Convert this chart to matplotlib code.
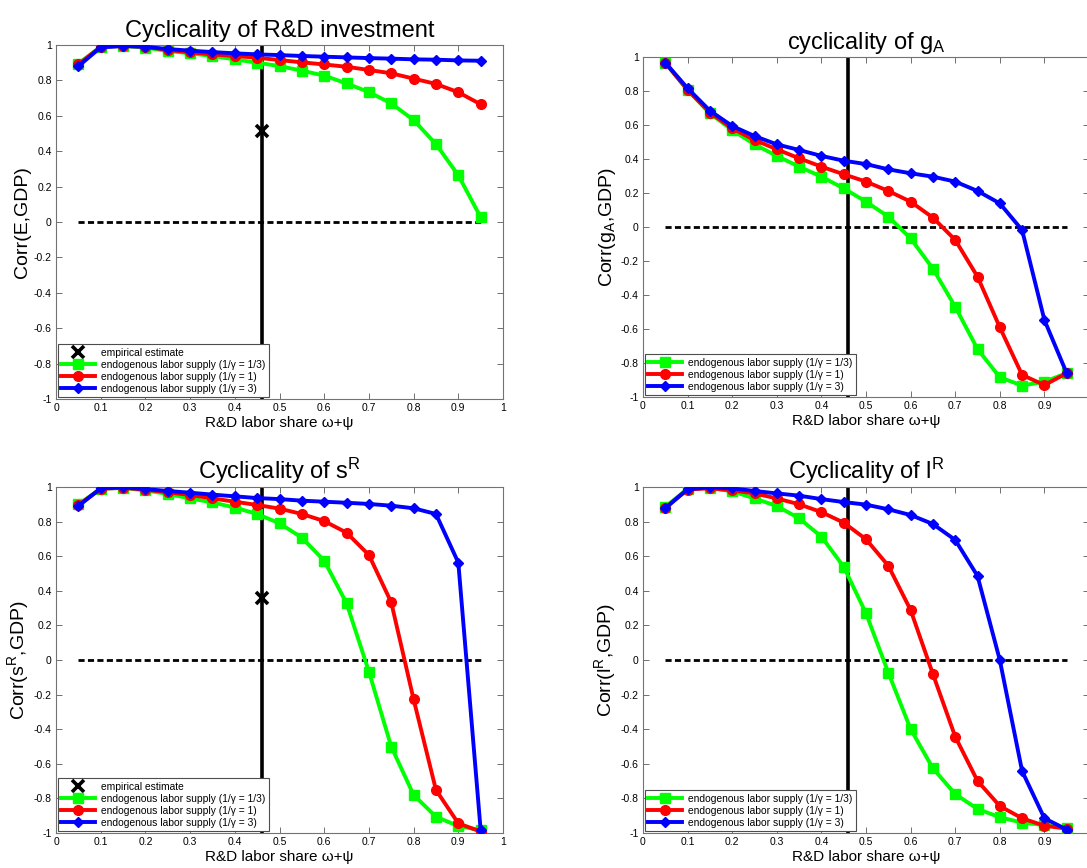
import matplotlib
matplotlib.use("Agg")
import matplotlib.pyplot as plt

plt.rcParams['font.family'] = ['Liberation Sans', 'DejaVu Sans']
plt.rcParams['mathtext.fontset'] = 'custom'
plt.rcParams['mathtext.rm'] = 'Liberation Sans'
plt.rcParams['mathtext.it'] = 'Liberation Sans:italic'

x = [0.05, 0.10, 0.15, 0.20, 0.25, 0.30, 0.35, 0.40, 0.45, 0.50,
     0.55, 0.60, 0.65, 0.70, 0.75, 0.80, 0.85, 0.90, 0.95]

# Panel 1: R&D investment E
E_green = [0.895, 0.99, 0.995, 0.985, 0.966, 0.953, 0.938, 0.919, 0.90, 0.881,
           0.855, 0.827, 0.783, 0.734, 0.67, 0.576, 0.44, 0.264, 0.027]
E_red = [0.89, 0.99, 0.995, 0.99, 0.972, 0.958, 0.947, 0.938, 0.928, 0.915,
         0.902, 0.89, 0.877, 0.859, 0.84, 0.81, 0.78, 0.733, 0.665]
E_blue = [0.88, 0.987, 0.994, 0.99, 0.977, 0.968, 0.96, 0.953, 0.947, 0.943,
          0.938, 0.934, 0.93, 0.926, 0.923, 0.919, 0.917, 0.913, 0.911]
E_emp = 0.516

# Panel 2: g_A
g_green = [0.965, 0.805, 0.669, 0.57, 0.486, 0.418, 0.355, 0.296, 0.227, 0.149,
           0.061, -0.067, -0.245, -0.469, -0.718, -0.884, -0.933, -0.91, -0.86]
g_red = [0.965, 0.806, 0.673, 0.58, 0.512, 0.457, 0.404, 0.355, 0.31, 0.267,
         0.212, 0.149, 0.055, -0.076, -0.292, -0.59, -0.87, -0.93, -0.86]
g_blue = [0.967, 0.816, 0.684, 0.594, 0.535, 0.486, 0.453, 0.418, 0.39, 0.37,
          0.339, 0.316, 0.296, 0.267, 0.212, 0.139, -0.018, -0.547, -0.86]

# Panel 3: s^R
s_green = [0.90, 0.99, 0.995, 0.98, 0.96, 0.934, 0.911, 0.881, 0.844, 0.79,
           0.707, 0.574, 0.328, -0.067, -0.501, -0.78, -0.906, -0.96, -0.983]
s_red = [0.895, 0.99, 0.995, 0.985, 0.969, 0.954, 0.934, 0.915, 0.896, 0.875,
         0.844, 0.803, 0.736, 0.607, 0.333, -0.227, -0.751, -0.944, -0.992]
s_blue = [0.89, 0.992, 0.998, 0.988, 0.977, 0.967, 0.956, 0.946, 0.936, 0.93,
          0.921, 0.915, 0.909, 0.902, 0.892, 0.877, 0.844, 0.563, -0.983]
s_emp = 0.357

# Panel 4: l^R
l_green = [0.885, 0.99, 0.995, 0.975, 0.934, 0.89, 0.819, 0.713, 0.539, 0.27,
           -0.073, -0.399, -0.626, -0.775, -0.861, -0.909, -0.94, -0.954, -0.97]
l_red = [0.88, 0.985, 0.993, 0.98, 0.963, 0.934, 0.90, 0.855, 0.794, 0.698,
         0.545, 0.289, -0.081, -0.443, -0.699, -0.844, -0.915, -0.958, -0.975]
l_blue = [0.877, 0.988, 0.998, 0.992, 0.977, 0.963, 0.95, 0.93, 0.913, 0.898,
          0.871, 0.838, 0.786, 0.694, 0.486, 0.0, -0.642, -0.915, -0.98]

x_emp = 0.46
xticks = [0, 0.1, 0.2, 0.3, 0.4, 0.5, 0.6, 0.7, 0.8, 0.9, 1]
yticks = [-1, -0.8, -0.6, -0.4, -0.2, 0, 0.2, 0.4, 0.6, 0.8, 1]
legend_labels = ['endogenous labor supply (1/\u03b3 = 1/3)',
                 'endogenous labor supply (1/\u03b3 = 1)',
                 'endogenous labor supply (1/\u03b3 = 3)']
xlabel = 'R&D labor share \u03c9+\u03c8'

W, H = 1087, 868
fig = plt.figure(figsize=(W / 100, H / 100), dpi=100)

def pos(l, r, t, b):
    return [l / W, 1 - b / H, (r - l) / W, (b - t) / H]

panels = [
    dict(rect=pos(56, 503, 45, 399), title='Cyclicality of R&D investment',
         ylabel='Corr(E,GDP)', data=(E_green, E_red, E_blue), emp=E_emp, right=False),
    dict(rect=pos(643, 1089, 57, 397), title='cyclicality of g$_\\mathrm{A}$',
         ylabel='Corr(g$_\\mathrm{A}$,GDP)', data=(g_green, g_red, g_blue), emp=None, right=True),
    dict(rect=pos(56, 503, 487, 833), title='Cyclicality of s$^\\mathrm{R}$',
         ylabel='Corr(s$^\\mathrm{R}$,GDP)', data=(s_green, s_red, s_blue), emp=s_emp, right=False),
    dict(rect=pos(643, 1089, 487, 833), title='Cyclicality of l$^\\mathrm{R}$',
         ylabel='Corr(l$^\\mathrm{R}$,GDP)', data=(l_green, l_red, l_blue), emp=None, right=True),
]

colors = ['#00ff00', '#ff0000', '#0000ff']
markers = ['s', 'o', 'D']
msizes = [6.5, 7, 5.5]

for p in panels:
    ax = fig.add_axes(p['rect'])
    ax.axvline(x_emp, color='black', lw=2.6, zorder=2)
    ax.plot([x[0], x[-1]], [0, 0], color='black', lw=2, ls=(0, (2.2, 1.2)), zorder=2)
    handles = []
    if p['emp'] is not None:
        h = ax.plot([x_emp], [p['emp']], ls='none', marker='x', color='black',
                    ms=9, mew=2.6, zorder=5, label='empirical estimate')[0]
        handles.append(h)
    for ys, c, m, ms, lab in zip(p['data'], colors, markers, msizes, legend_labels):
        h = ax.plot(x, ys, color=c, lw=2.8, marker=m, ms=ms, mfc=c, mec=c,
                    zorder=3, label=lab)[0]
        handles.append(h)
    ax.set_xlim(0, 1)
    ax.set_ylim(-1, 1)
    ax.set_xticks(xticks)
    xl = [f'{t:g}' for t in xticks]
    if p['right']:
        xl[-1] = ''
    ax.set_xticklabels(xl)
    ax.set_yticks(yticks)
    ax.set_yticklabels([f'{t:g}' for t in yticks])
    ax.tick_params(direction='in', length=4, width=0.6, labelsize=7.5,
                   top=True, right=True, colors='0.35', labelcolor='black', pad=3)
    for s in ax.spines.values():
        s.set_color('0.45')
        s.set_linewidth(0.8)
    ax.set_title(p['title'], fontsize=17, pad=6)
    ax.set_xlabel(xlabel, fontsize=11, labelpad=2)
    ax.set_ylabel(p['ylabel'], fontsize=14, labelpad=2)
    leg = ax.legend(handles=handles, loc='lower left', fontsize=7.4, fancybox=False,
                    edgecolor='0.3', framealpha=1, borderaxespad=0.15,
                    handlelength=3.3, labelspacing=0.2, borderpad=0.35,
                    handletextpad=0.6)
    leg.get_frame().set_linewidth(0.8)

fig.savefig('out.png', dpi=100)
